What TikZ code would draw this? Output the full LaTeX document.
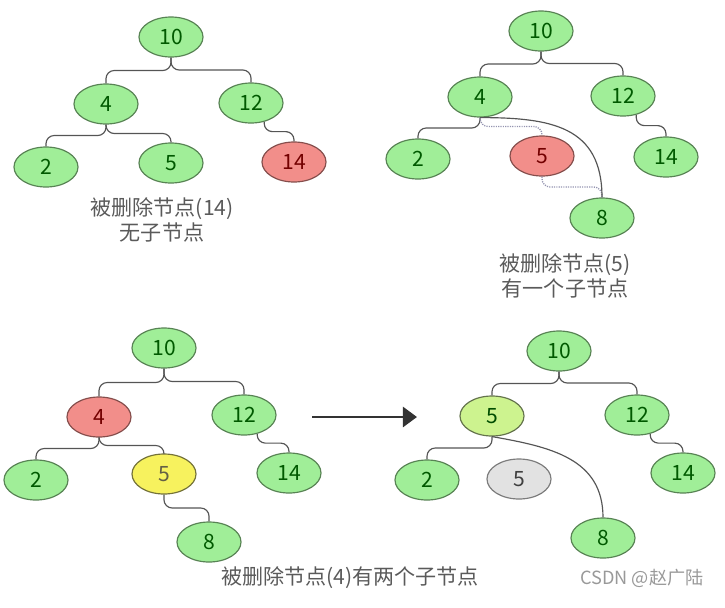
\documentclass[tikz,border=0pt]{standalone}
\usepackage{fontspec}
\setmainfont{Noto Sans CJK SC}
\usepackage{tikz}
\usetikzlibrary{shapes.geometric, positioning, calc, arrows.meta}

\definecolor{nodegreen}{HTML}{A0EE98}
\definecolor{nodered}{HTML}{F28E8A}
\definecolor{nodeyellow}{HTML}{F7F25E}
\definecolor{nodelime}{HTML}{CDF38F}
\definecolor{nodegray}{HTML}{E2E2E2}
\definecolor{linegray}{HTML}{555555}
\definecolor{dotline}{HTML}{9494B0}
\definecolor{capgray}{HTML}{5A5A5A}

\tikzset{
    tnode/.style={ellipse, draw=#1!55!black, line width=1pt, minimum width=1.92cm,
        minimum height=1.2cm, inner sep=0pt, font=\fontsize{18}{20}\selectfont},
    green/.style={tnode=nodegreen, fill=nodegreen, text=green!35!black},
    red/.style={tnode=nodered, fill=nodered, text=red!45!black},
    yellow/.style={tnode=nodeyellow!70!gray, fill=nodeyellow, text=yellow!30!black},
    lime/.style={tnode=nodelime!70!gray, fill=nodelime, text=green!30!black},
    grey/.style={tnode=nodegray, fill=nodegray, text=black!75},
    branch/.style={linegray, line width=1pt, rounded corners=7pt,
        to path={(\tikztostart) |- ($(\tikztostart)!0.5!(\tikztotarget)$) -| (\tikztotarget)}},
    cut/.style={branch, dotline, densely dotted, line width=1.1pt},
    arc/.style={linegray, line width=1pt},
    caption/.style={capgray, font=\fontsize{18}{22}\selectfont, align=center}
}

\begin{document}
\begin{tikzpicture}[x=0.03cm, y=-0.03cm]
    \useasboundingbox (0,0) rectangle (725,607);

    % Tree 1: deleting a leaf
    \node[green] (a10) at (171,37) {10};
    \node[green] (a4)  at (106,104) {4};
    \node[green] (a12) at (251,103) {12};
    \node[green] (a2)  at (46,167) {2};
    \node[green] (a5)  at (171,163) {5};
    \node[red]   (a14) at (294,162) {14};
    \draw[branch] (a10.south) to (a4.north);
    \draw[branch] (a10.south) to (a12.north);
    \draw[branch] (a4.south) to (a2.north);
    \draw[branch] (a4.south) to (a5.north);
    \draw[branch] (a12.-55) to (a14.north);
    \node[caption] (acap) at (162,220) {被删除节点(14)\\无子节点};

    % Tree 2: deleting a node with one child
    \node[green] (b10) at (541,31) {10};
    \node[green] (b4)  at (480,97) {4};
    \node[green] (b12) at (623,96) {12};
    \node[green] (b2)  at (418,159) {2};
    \node[red]   (b5)  at (542,156) {5};
    \node[green] (b14) at (666,157) {14};
    \node[green] (b8)  at (602,218) {8};
    \draw[branch] (b10.south) to (b4.north);
    \draw[branch] (b10.south) to (b12.north);
    \draw[branch] (b4.south) to (b2.north);
    \draw[branch] (b12.-55) to (b14.north);
    \draw[cut] (b4.south) to (b5.north);
    \draw[cut] (b5.south) to (b8.north);
    \draw[arc] (b4.south) to[out=0, in=90, looseness=1.25] (b8.north);
    \node[caption] (bcap) at (565,276) {被删除节点(5)\\有一个子节点};

    % Tree 3: deleting a node with two children
    \node[green]  (c10) at (164,348) {10};
    \node[red]    (c4)  at (99,417) {4};
    \node[green]  (c12) at (244,415) {12};
    \node[green]  (c2)  at (36,480) {2};
    \node[yellow] (c5)  at (164,474) {5};
    \node[green]  (c14) at (289,473) {14};
    \node[green]  (c8)  at (209,542) {8};
    \draw[branch] (c10.south) to (c4.north);
    \draw[branch] (c10.south) to (c12.north);
    \draw[branch] (c4.south) to (c2.north);
    \draw[branch] (c4.south) to (c5.north);
    \draw[branch] (c12.-55) to (c14.north);
    \draw[branch] (c5.south) to (c8.north);

    % Arrow between tree 3 and tree 4
    \coordinate (arrfrom) at (312,417);
    \coordinate (arrto) at (417,417);
    \draw[line width=2.5pt, black!80, -{Triangle[length=12pt, width=17pt]}] (arrfrom) -- (arrto);

    % Tree 4: successor 5 moved up
    \node[green] (d10) at (559,351) {10};
    \node[lime]  (d5)  at (492,416) {5};
    \node[green] (d12) at (637,415) {12};
    \node[green] (d2)  at (427,480) {2};
    \node[grey]  (d5o) at (519,479) {5};
    \node[green] (d14) at (683,473) {14};
    \node[green] (d8)  at (603,538) {8};
    \draw[branch] (d10.south) to (d5.north);
    \draw[branch] (d10.south) to (d12.north);
    \draw[branch] (d5.south) to (d2.north);
    \draw[branch] (d12.-55) to (d14.north);
    \draw[arc] (d5.south) to[out=-10, in=90, looseness=1.1] (d8.north);

    % Captions
    \node[caption] (ccap) at (350,578) {被删除节点(4)有两个子节点};
    \node[black!40, font=\fontsize{15.5}{18}\selectfont] (mark) at (642,578) {CSDN @赵广陆};
\end{tikzpicture}
\end{document}
